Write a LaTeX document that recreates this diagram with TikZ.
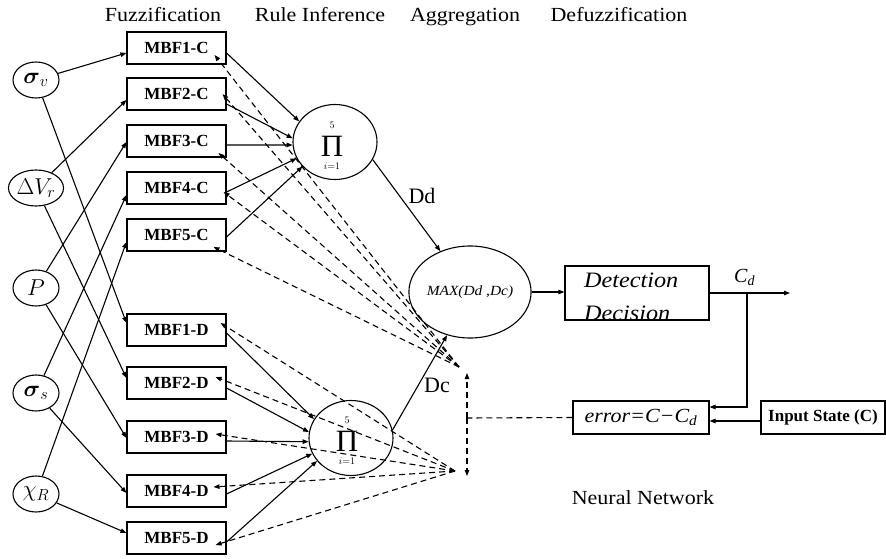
\RequirePackage{fix-cm}
\documentclass[tikz,border=0pt]{standalone}
\usepackage{amsmath}
\usepackage{fontspec}
\setmainfont{Liberation Serif}
\newfontfamily\wfont{Liberation Serif}[FakeStretch=1.1]
\newfontfamily\wifont{Liberation Serif Italic}[FakeStretch=1.1]
\newfontfamily\ifont{Liberation Serif Italic}
\usetikzlibrary{arrows.meta,shapes.geometric}
\begin{document}
\begin{tikzpicture}[x=1pt,y=-1pt,
  ln/.style={line width=1.1pt},
  arr/.style={ln,-{Triangle[length=6pt,width=4.5pt]}},
  dsh/.style={arr,dash pattern=on 6pt off 4pt},
  dline/.style={ln,dash pattern=on 6pt off 4pt},
  inp/.style={ellipse,draw,line width=1.1pt,minimum width=46pt,minimum height=36pt,inner sep=0pt,font=\fontsize{23}{25}\selectfont},
  mbf/.style={draw,line width=1.1pt,minimum width=99pt,minimum height=32pt,inner sep=0pt,font=\bfseries\fontsize{17}{19}\selectfont},
  prodc/.style={ellipse,draw,line width=1.1pt,minimum width=84pt,minimum height=75pt,inner sep=0pt},
  lim/.style={inner sep=0pt,font=\fontsize{10}{10}\selectfont},
  bigp/.style={inner sep=0pt,font=\fontsize{31}{31}\selectfont},
  hdr/.style={anchor=base,inner sep=0pt,font=\wfont\fontsize{20}{22}\selectfont},
  lbl/.style={inner sep=0pt,font=\fontsize{22}{24}\selectfont}
]
\useasboundingbox (0,0) rectangle (886,559);
% headers
\node[hdr] (h1) at (163,22) {Fuzzification};
\node[hdr] (h2) at (320,22) {Rule Inference};
\node[hdr] (h3) at (465,22) {Aggregation};
\node[hdr] (h4) at (619,22) {Defuzzification};
% inputs
\node[inp] (sv) at (36,80) {$\boldsymbol{\sigma}_{v}$};
\node[inp] (dv) at (36,188) {$\Delta V_{r}$};
\node[inp] (pp) at (36,288) {$P$};
\node[inp] (ss) at (36,393) {$\boldsymbol{\sigma}_{s}$};
\node[inp] (xr) at (36,494) {$\chi_{R}$};
% MBF boxes
\node[mbf] (c1) at (176.5,48) {MBF1-C};
\node[mbf] (c2) at (176.5,94) {MBF2-C};
\node[mbf] (c3) at (176.5,141) {MBF3-C};
\node[mbf] (c4) at (176.5,188) {MBF4-C};
\node[mbf] (c5) at (176.5,235) {MBF5-C};
\node[mbf] (d1) at (176.5,330) {MBF1-D};
\node[mbf] (d2) at (176.5,383) {MBF2-D};
\node[mbf] (d3) at (176.5,437) {MBF3-D};
\node[mbf] (d4) at (176.5,491) {MBF4-D};
\node[mbf] (d5) at (176.5,538) {MBF5-D};
% product nodes
\node[prodc] (p1) at (335,142) {};
\node[lim] (p1u) at (332,125) {$5$};
\node[bigp] (p1s) at (332,146) {Π};
\node[lim] (p1l) at (332,166) {$i{=}1$};
\node[prodc] (p2) at (351,438) {};
\node[lim] (p2u) at (347,420) {$5$};
\node[bigp] (p2s) at (347,441) {Π};
\node[lim] (p2l) at (347,461) {$i{=}1$};
% max
\node[ellipse,draw,ln,minimum width=100pt,minimum height=92pt,inner sep=0pt,font=\wifont\fontsize{14}{16}\selectfont] (mx) at (470,292) {MAX(Dd ,Dc)};
% detection
\node[draw,ln,minimum width=144pt,minimum height=54pt,inner sep=0pt] (det) at (637,293) {};
\node[anchor=base west,inner sep=0pt,font=\wifont\fontsize{22}{24}\selectfont] (t1) at (584,287) {Detection};
\node[anchor=base west,inner sep=0pt,font=\wifont\fontsize{22}{24}\selectfont] (t2) at (584,320) {Decision};
% error, input state
\node[draw,ln,minimum width=136pt,minimum height=33pt,inner sep=0pt,font=\wifont\fontsize{20}{22}\selectfont] (err) at (641,417.5) {error=C−C\textsubscript{d}};
\node[draw,ln,minimum width=124pt,minimum height=33pt,inner sep=0pt,font=\bfseries\fontsize{17}{19}\selectfont] (ins) at (823,417.5) {Input State (C)};
% labels
\node[lbl] (dd) at (422,196) {Dd};
\node[lbl] (dc) at (437,385) {Dc};
\node[anchor=base west,inner sep=0pt,font=\ifont\fontsize{20}{22}\selectfont] (cd) at (734,282) {C\textsubscript{d}};
\node[hdr] (nn) at (643,504) {Neural Network};
% coordinates
\coordinate (out) at (790,293);
\coordinate (br) at (747,293);
\coordinate (J) at (467,418);
\coordinate (T) at (467,373);
\coordinate (B) at (467,476);
\coordinate (TF) at (459,367);
\coordinate (BF) at (455,471);
\coordinate (tc1) at ([xshift=-12pt,yshift=-7pt]c1.east);
\coordinate (tc2) at ([xshift=-4pt]c2.east);
\coordinate (tc3) at ([xshift=-8pt,yshift=-12pt]c3.east);
\coordinate (tc4) at ([xshift=-3pt,yshift=-4pt]c4.east);
\coordinate (tc5) at ([xshift=-13pt,yshift=-12pt]c5.east);
\coordinate (td1) at ([xshift=-6pt,yshift=7pt]d1.east);
\coordinate (td2) at ([xshift=-11pt,yshift=6pt]d2.east);
\coordinate (td3) at ([xshift=-11pt,yshift=3pt]d3.east);
\coordinate (td4) at ([xshift=-13pt,yshift=4pt]d4.east);
\coordinate (td5) at ([xshift=-11pt,yshift=-7pt]d5.east);
% inputs to MBF
\draw[arr] (sv) -- ([yshift=-5pt]c1.west);
\draw[arr] (dv) -- ([yshift=-6pt]c2.west);
\draw[arr] (pp) -- ([yshift=-1pt]c3.west);
\draw[arr] (ss) -- ([yshift=-7pt]c4.west);
\draw[arr] (xr) -- ([yshift=-7pt]c5.west);
\draw[arr] (sv) -- ([yshift=7pt]d1.west);
\draw[arr] (dv) -- ([yshift=5pt]d2.west);
\draw[arr] (pp) -- ([yshift=-1pt]d3.west);
\draw[arr] (ss) -- ([yshift=-2pt]d4.west);
\draw[arr] (xr) -- ([yshift=5pt]d5.west);
% MBF to products
\draw[arr] ([yshift=-5pt]c1.east) -- (p1.150);
\draw[arr] ([yshift=-10pt]c2.east) -- (p1.175);
\draw[arr] ([yshift=-4pt]c3.east) -- (p1.184);
\draw[arr] ([yshift=-4pt]c4.east) -- (p1.203);
\draw[arr] ([yshift=-2pt]c5.east) -- (p1.217);
\draw[arr] ([yshift=-3pt]d1.east) -- (p2.153);
\draw[arr] ([yshift=-5pt]d2.east) -- (p2.172);
\draw[arr] ([yshift=-4pt]d3.east) -- (p2.185);
\draw[arr] ([yshift=-3pt]d4.east) -- (p2.202);
\draw[arr] ([yshift=-4pt]d5.east) -- (p2.214);
% products to max
\draw[arr] (p1.-25) -- (mx.126);
\draw[arr] (p2.11) -- (mx.242);
\draw[arr] (mx.east) -- (mx.east -| det.west);
% output
\draw[arr] (det.east |- br) -- (out);
\draw[arr] (br) |- ([yshift=10.5pt]err.east);
\draw[arr] ([yshift=-3.5pt]ins.west) -- ([yshift=-3.5pt]err.east);
% feedback
\draw[dline] (err.west) -- (J);
\draw[dsh] (J) -- (T);
\draw[dsh] (J) -- (B);
\foreach \i in {1,...,5} {
  \draw[dsh] (TF) -- (tc\i);
  \draw[dsh] (BF) -- (td\i);
}
\end{tikzpicture}
\end{document}
